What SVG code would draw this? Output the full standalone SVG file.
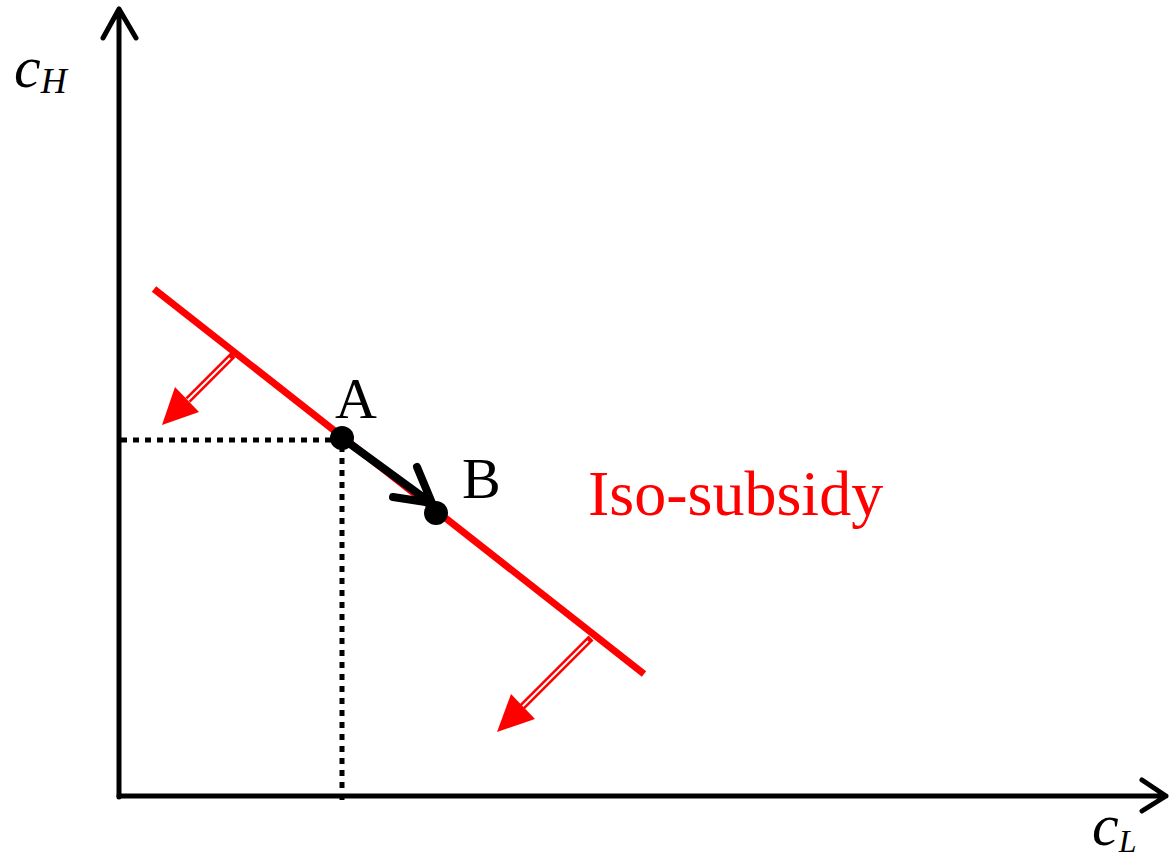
<svg xmlns="http://www.w3.org/2000/svg" width="1169" height="862" viewBox="0 0 1169 862">
<style>
.ax{stroke:#000;stroke-width:5;fill:none;stroke-linecap:round;stroke-linejoin:round}
.mv{stroke:#000;stroke-width:8;fill:none;stroke-linecap:round;stroke-linejoin:round}
.dot{stroke:#000;stroke-width:5;stroke-dasharray:6 6;fill:none}
.t{font-family:"Liberation Serif",serif;fill:#000}
.it{font-family:"Liberation Serif",serif;font-style:italic;fill:#000}
.red{fill:#f00;stroke:none}
</style>
<rect width="1169" height="862" fill="#fff"/>
<g id="connectors">
<g id="axes">
<path class="ax" d="M119,797 V9 M103,38 L119,9 L136,38"/>
<path class="ax" d="M119,796 H1166 M1142,780 L1166,796 L1142,811"/>
</g>
<g id="guides">
<path class="dot" d="M121,440 H341"/>
<path class="dot" d="M342,446 V800"/>
</g>
<g id="iso-line">
<path d="M154,289 L644,674" stroke="#f00" stroke-width="7" fill="none"/>
</g>
<g id="shift-arrow-1">
<path d="M233,355 L188,400" stroke="#f00" stroke-width="7" fill="none"/>
<path d="M230,358 L187,401" stroke="#fff" stroke-width="2" fill="none"/>
<polygon class="red" points="162,425 175,387 199,412"/>
</g>
<g id="shift-arrow-2">
<path d="M591,638 L522,707" stroke="#f00" stroke-width="7" fill="none"/>
<path d="M588,641 L521,708" stroke="#fff" stroke-width="2" fill="none"/>
<polygon class="red" points="497,732 511,694 535,719"/>
</g>
<g id="move-arrow">
<path class="mv" d="M342,438 L431,503 M417,467 L432,503 L393,497"/>
</g>
</g>
<g id="point-A">
<circle cx="342" cy="438" r="12" fill="#000"/>
<text class="t" x="335" y="418" font-size="58">A</text>
</g>
<g id="point-B">
<circle cx="436" cy="513" r="12" fill="#000"/>
<text class="t" x="462" y="498" font-size="58">B</text>
</g>
<g id="label-iso">
<text class="t" x="588" y="515" font-size="64" style="fill:#f00">Iso-subsidy</text>
</g>
<g id="label-cH">
<text class="it" x="14" y="87" font-size="60">c<tspan font-size="36" dy="6">H</tspan></text>
</g>
<g id="label-cL">
<text class="it" x="1092" y="845" font-size="60">c<tspan font-size="32" dy="7">L</tspan></text>
</g>
</svg>
